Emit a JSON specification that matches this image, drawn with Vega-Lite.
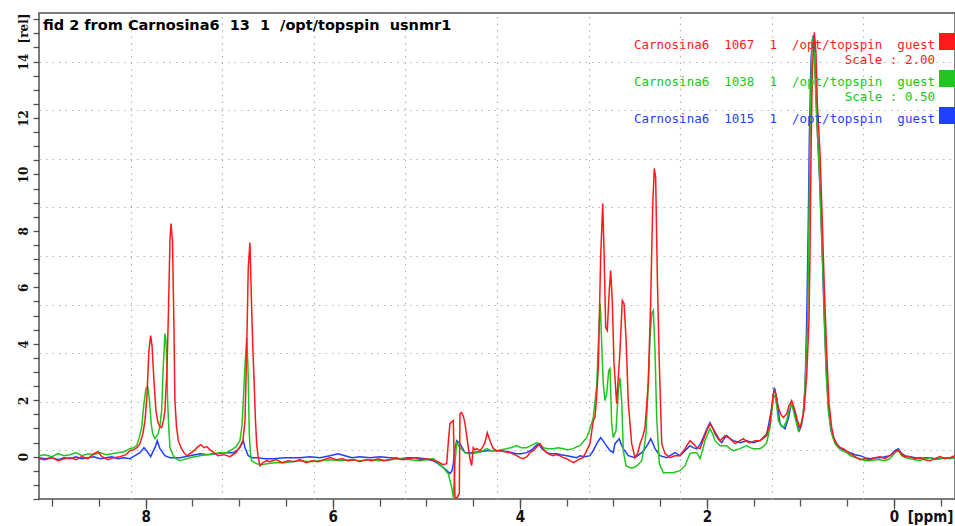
{
  "$schema": "https://vega.github.io/schema/vega-lite/v6.json",
  "width": 916,
  "height": 486,
  "autosize": {"type": "none"},
  "padding": {"left": 39, "top": 13, "right": 0, "bottom": 27},
  "background": "white",
  "config": {
    "view": {"stroke": "#505050", "strokeWidth": 1.5},
    "axis": {"domain": false, "grid": false, "tickColor": "#505050", "tickWidth": 1.3, "labelColor": "#111", "titleColor": "#111"}
  },
  "title": {
    "text": "fid 2 from Carnosina6\u00a0 13\u00a0 1\u00a0 /opt/topspin\u00a0 usnmr1",
    "anchor": "start", "frame": "group", "offset": -31, "baseline": "alphabetic", "dx": 4,
    "font": "DejaVu Sans", "fontSize": 14.5, "fontWeight": "bold", "color": "#000"
  },
  "data": {"values": [
    {"s":"1015","ppm":9.140,"rel":-0.035},{"s":"1015","ppm":9.076,"rel":-0.071},{"s":"1015","ppm":9.002,"rel":-0.035},{"s":"1015","ppm":8.937,"rel":-0.106},{"s":"1015","ppm":8.873,"rel":-0.035},{"s":"1015","ppm":8.809,"rel":-0.071},{"s":"1015","ppm":8.745,"rel":0},{"s":"1015","ppm":8.681,"rel":-0.071},{"s":"1015","ppm":8.617,"rel":-0.035},{"s":"1015","ppm":8.553,"rel":0},{"s":"1015","ppm":8.488,"rel":-0.071},{"s":"1015","ppm":8.424,"rel":-0.035},{"s":"1015","ppm":8.360,"rel":0},{"s":"1015","ppm":8.296,"rel":-0.071},{"s":"1015","ppm":8.232,"rel":-0.035},{"s":"1015","ppm":8.168,"rel":-0.071},{"s":"1015","ppm":8.114,"rel":0.035},{"s":"1015","ppm":8.061,"rel":0.142},{"s":"1015","ppm":8.018,"rel":0.319},{"s":"1015","ppm":7.989,"rel":0.213},{"s":"1015","ppm":7.946,"rel":0},{"s":"1015","ppm":7.922,"rel":0.177},{"s":"1015","ppm":7.900,"rel":0.319},{"s":"1015","ppm":7.876,"rel":0.567},{"s":"1015","ppm":7.847,"rel":0.284},{"s":"1015","ppm":7.794,"rel":0.035},{"s":"1015","ppm":7.740,"rel":-0.035},{"s":"1015","ppm":7.687,"rel":-0.035},{"s":"1015","ppm":7.633,"rel":-0.035},{"s":"1015","ppm":7.526,"rel":0.035},{"s":"1015","ppm":7.419,"rel":0.106},{"s":"1015","ppm":7.334,"rel":0.071},{"s":"1015","ppm":7.241,"rel":0.106},{"s":"1015","ppm":7.152,"rel":0.142},{"s":"1015","ppm":7.063,"rel":0.142},{"s":"1015","ppm":7.024,"rel":0.213},{"s":"1015","ppm":6.992,"rel":0.319},{"s":"1015","ppm":6.956,"rel":0.567},{"s":"1015","ppm":6.938,"rel":0.319},{"s":"1015","ppm":6.903,"rel":0.035},{"s":"1015","ppm":6.863,"rel":-0.035},{"s":"1015","ppm":6.813,"rel":-0.035},{"s":"1015","ppm":6.724,"rel":-0.071},{"s":"1015","ppm":6.636,"rel":-0.071},{"s":"1015","ppm":6.511,"rel":-0.035},{"s":"1015","ppm":6.350,"rel":-0.035},{"s":"1015","ppm":6.243,"rel":0},{"s":"1015","ppm":6.136,"rel":-0.035},{"s":"1015","ppm":6.030,"rel":0.035},{"s":"1015","ppm":5.944,"rel":0.106},{"s":"1015","ppm":5.869,"rel":0.035},{"s":"1015","ppm":5.794,"rel":-0.035},{"s":"1015","ppm":5.709,"rel":0},{"s":"1015","ppm":5.602,"rel":-0.035},{"s":"1015","ppm":5.495,"rel":0},{"s":"1015","ppm":5.388,"rel":-0.035},{"s":"1015","ppm":5.281,"rel":-0.071},{"s":"1015","ppm":5.196,"rel":-0.035},{"s":"1015","ppm":5.103,"rel":-0.035},{"s":"1015","ppm":5.014,"rel":-0.071},{"s":"1015","ppm":4.925,"rel":-0.142},{"s":"1015","ppm":4.875,"rel":-0.248},{"s":"1015","ppm":4.818,"rel":-0.390},{"s":"1015","ppm":4.779,"rel":-0.496},{"s":"1015","ppm":4.747,"rel":-0.603},{"s":"1015","ppm":4.725,"rel":-0.496},{"s":"1015","ppm":4.711,"rel":-0.248},{"s":"1015","ppm":4.693,"rel":0.284},{"s":"1015","ppm":4.675,"rel":0.567},{"s":"1015","ppm":4.640,"rel":0.461},{"s":"1015","ppm":4.586,"rel":0.142},{"s":"1015","ppm":4.533,"rel":0.142},{"s":"1015","ppm":4.426,"rel":0.177},{"s":"1015","ppm":4.354,"rel":0.213},{"s":"1015","ppm":4.284,"rel":0.213},{"s":"1015","ppm":4.212,"rel":0.213},{"s":"1015","ppm":4.127,"rel":0.177},{"s":"1015","ppm":4.034,"rel":0.106},{"s":"1015","ppm":3.988,"rel":0.106},{"s":"1015","ppm":3.927,"rel":0.142},{"s":"1015","ppm":3.870,"rel":0.248},{"s":"1015","ppm":3.838,"rel":0.355},{"s":"1015","ppm":3.803,"rel":0.461},{"s":"1015","ppm":3.763,"rel":0.284},{"s":"1015","ppm":3.713,"rel":0.142},{"s":"1015","ppm":3.667,"rel":0.106},{"s":"1015","ppm":3.606,"rel":0.106},{"s":"1015","ppm":3.560,"rel":0.071},{"s":"1015","ppm":3.499,"rel":0.035},{"s":"1015","ppm":3.442,"rel":0},{"s":"1015","ppm":3.392,"rel":-0.035},{"s":"1015","ppm":3.357,"rel":0.035},{"s":"1015","ppm":3.303,"rel":0},{"s":"1015","ppm":3.250,"rel":0.035},{"s":"1015","ppm":3.215,"rel":0.213},{"s":"1015","ppm":3.178,"rel":0.461},{"s":"1015","ppm":3.136,"rel":0.674},{"s":"1015","ppm":3.111,"rel":0.567},{"s":"1015","ppm":3.090,"rel":0.461},{"s":"1015","ppm":3.036,"rel":0.213},{"s":"1015","ppm":3.001,"rel":0.142},{"s":"1015","ppm":2.983,"rel":0.461},{"s":"1015","ppm":2.937,"rel":0.638},{"s":"1015","ppm":2.919,"rel":0.461},{"s":"1015","ppm":2.894,"rel":0.284},{"s":"1015","ppm":2.840,"rel":0.035},{"s":"1015","ppm":2.769,"rel":-0.035},{"s":"1015","ppm":2.697,"rel":0.142},{"s":"1015","ppm":2.662,"rel":0.284},{"s":"1015","ppm":2.627,"rel":0.461},{"s":"1015","ppm":2.601,"rel":0.638},{"s":"1015","ppm":2.576,"rel":0.461},{"s":"1015","ppm":2.555,"rel":0.284},{"s":"1015","ppm":2.502,"rel":0.035},{"s":"1015","ppm":2.430,"rel":-0.035},{"s":"1015","ppm":2.395,"rel":0.035},{"s":"1015","ppm":2.341,"rel":0.142},{"s":"1015","ppm":2.288,"rel":0.035},{"s":"1015","ppm":2.234,"rel":0.213},{"s":"1015","ppm":2.181,"rel":0.390},{"s":"1015","ppm":2.149,"rel":0.319},{"s":"1015","ppm":2.109,"rel":0.284},{"s":"1015","ppm":2.074,"rel":0.426},{"s":"1015","ppm":2.039,"rel":0.674},{"s":"1015","ppm":1.999,"rel":0.993},{"s":"1015","ppm":1.967,"rel":1.206},{"s":"1015","ppm":1.935,"rel":0.993},{"s":"1015","ppm":1.914,"rel":0.816},{"s":"1015","ppm":1.882,"rel":0.638},{"s":"1015","ppm":1.842,"rel":0.496},{"s":"1015","ppm":1.817,"rel":0.638},{"s":"1015","ppm":1.789,"rel":0.745},{"s":"1015","ppm":1.753,"rel":0.638},{"s":"1015","ppm":1.718,"rel":0.567},{"s":"1015","ppm":1.646,"rel":0.496},{"s":"1015","ppm":1.575,"rel":0.567},{"s":"1015","ppm":1.504,"rel":0.496},{"s":"1015","ppm":1.433,"rel":0.567},{"s":"1015","ppm":1.400,"rel":0.674},{"s":"1015","ppm":1.361,"rel":0.816},{"s":"1015","ppm":1.336,"rel":1.206},{"s":"1015","ppm":1.307,"rel":1.738},{"s":"1015","ppm":1.280,"rel":2.447},{"s":"1015","ppm":1.254,"rel":2.092},{"s":"1015","ppm":1.237,"rel":1.631},{"s":"1015","ppm":1.219,"rel":1.170},{"s":"1015","ppm":1.192,"rel":1.064},{"s":"1015","ppm":1.165,"rel":0.993},{"s":"1015","ppm":1.130,"rel":1.348},{"s":"1015","ppm":1.094,"rel":1.915},{"s":"1015","ppm":1.058,"rel":1.525},{"s":"1015","ppm":1.037,"rel":1.206},{"s":"1015","ppm":1.012,"rel":0.922},{"s":"1015","ppm":0.989,"rel":1.099},{"s":"1015","ppm":0.970,"rel":1.525},{"s":"1015","ppm":0.951,"rel":2.447},{"s":"1015","ppm":0.933,"rel":4.823},{"s":"1015","ppm":0.916,"rel":8.369},{"s":"1015","ppm":0.905,"rel":11.312},{"s":"1015","ppm":0.887,"rel":14.043},{"s":"1015","ppm":0.873,"rel":14.752},{"s":"1015","ppm":0.863,"rel":14.929},{"s":"1015","ppm":0.852,"rel":14.504},{"s":"1015","ppm":0.837,"rel":13.085},{"s":"1015","ppm":0.816,"rel":11.312},{"s":"1015","ppm":0.791,"rel":9.539},{"s":"1015","ppm":0.767,"rel":7.199},{"s":"1015","ppm":0.745,"rel":4.823},{"s":"1015","ppm":0.719,"rel":2.695},{"s":"1015","ppm":0.695,"rel":1.525},{"s":"1015","ppm":0.674,"rel":0.922},{"s":"1015","ppm":0.649,"rel":0.674},{"s":"1015","ppm":0.615,"rel":0.461},{"s":"1015","ppm":0.577,"rel":0.319},{"s":"1015","ppm":0.524,"rel":0.213},{"s":"1015","ppm":0.470,"rel":0.142},{"s":"1015","ppm":0.417,"rel":0.071},{"s":"1015","ppm":0.363,"rel":0.035},{"s":"1015","ppm":0.310,"rel":-0.035},{"s":"1015","ppm":0.257,"rel":-0.071},{"s":"1015","ppm":0.203,"rel":-0.035},{"s":"1015","ppm":0.150,"rel":-0.035},{"s":"1015","ppm":0.096,"rel":0},{"s":"1015","ppm":0.043,"rel":0.035},{"s":"1015","ppm":-0.011,"rel":0.213},{"s":"1015","ppm":-0.046,"rel":0.284},{"s":"1015","ppm":-0.082,"rel":0.106},{"s":"1015","ppm":-0.118,"rel":0.035},{"s":"1015","ppm":-0.171,"rel":0},{"s":"1015","ppm":-0.225,"rel":-0.035},{"s":"1015","ppm":-0.278,"rel":-0.071},{"s":"1015","ppm":-0.331,"rel":-0.035},{"s":"1015","ppm":-0.385,"rel":-0.035},{"s":"1015","ppm":-0.438,"rel":-0.071},{"s":"1015","ppm":-0.492,"rel":-0.071},{"s":"1015","ppm":-0.545,"rel":-0.035},{"s":"1015","ppm":-0.599,"rel":-0.035},{"s":"1015","ppm":-0.652,"rel":-0.035},

    {"s":"1038","ppm":9.140,"rel":0.035},{"s":"1038","ppm":9.076,"rel":0.071},{"s":"1038","ppm":9.002,"rel":0},{"s":"1038","ppm":8.937,"rel":0.106},{"s":"1038","ppm":8.873,"rel":0.035},{"s":"1038","ppm":8.809,"rel":0.071},{"s":"1038","ppm":8.745,"rel":0.142},{"s":"1038","ppm":8.681,"rel":0.035},{"s":"1038","ppm":8.617,"rel":0.106},{"s":"1038","ppm":8.553,"rel":0.071},{"s":"1038","ppm":8.488,"rel":0.142},{"s":"1038","ppm":8.424,"rel":0.071},{"s":"1038","ppm":8.360,"rel":0.106},{"s":"1038","ppm":8.296,"rel":0.142},{"s":"1038","ppm":8.232,"rel":0.177},{"s":"1038","ppm":8.168,"rel":0.284},{"s":"1038","ppm":8.125,"rel":0.319},{"s":"1038","ppm":8.096,"rel":0.390},{"s":"1038","ppm":8.071,"rel":0.638},{"s":"1038","ppm":8.043,"rel":1.028},{"s":"1038","ppm":8.018,"rel":1.879},{"s":"1038","ppm":7.997,"rel":2.411},{"s":"1038","ppm":7.978,"rel":2.482},{"s":"1038","ppm":7.965,"rel":2.163},{"s":"1038","ppm":7.954,"rel":1.738},{"s":"1038","ppm":7.938,"rel":1.099},{"s":"1038","ppm":7.925,"rel":0.816},{"s":"1038","ppm":7.900,"rel":0.638},{"s":"1038","ppm":7.865,"rel":0.816},{"s":"1038","ppm":7.847,"rel":1.099},{"s":"1038","ppm":7.829,"rel":1.631},{"s":"1038","ppm":7.812,"rel":3.156},{"s":"1038","ppm":7.794,"rel":4.362},{"s":"1038","ppm":7.783,"rel":4.113},{"s":"1038","ppm":7.772,"rel":3.050},{"s":"1038","ppm":7.765,"rel":1.986},{"s":"1038","ppm":7.751,"rel":0.922},{"s":"1038","ppm":7.740,"rel":0.319},{"s":"1038","ppm":7.705,"rel":0.035},{"s":"1038","ppm":7.676,"rel":-0.071},{"s":"1038","ppm":7.633,"rel":-0.142},{"s":"1038","ppm":7.601,"rel":-0.106},{"s":"1038","ppm":7.561,"rel":-0.071},{"s":"1038","ppm":7.526,"rel":-0.035},{"s":"1038","ppm":7.473,"rel":0},{"s":"1038","ppm":7.419,"rel":0.035},{"s":"1038","ppm":7.355,"rel":0.071},{"s":"1038","ppm":7.277,"rel":0.106},{"s":"1038","ppm":7.206,"rel":0.142},{"s":"1038","ppm":7.134,"rel":0.142},{"s":"1038","ppm":7.099,"rel":0.213},{"s":"1038","ppm":7.063,"rel":0.284},{"s":"1038","ppm":7.034,"rel":0.355},{"s":"1038","ppm":6.992,"rel":0.567},{"s":"1038","ppm":6.970,"rel":1.099},{"s":"1038","ppm":6.956,"rel":1.986},{"s":"1038","ppm":6.935,"rel":3.404},{"s":"1038","ppm":6.920,"rel":4.220},{"s":"1038","ppm":6.906,"rel":3.156},{"s":"1038","ppm":6.892,"rel":0.816},{"s":"1038","ppm":6.880,"rel":0.142},{"s":"1038","ppm":6.867,"rel":-0.142},{"s":"1038","ppm":6.813,"rel":-0.248},{"s":"1038","ppm":6.757,"rel":-0.284},{"s":"1038","ppm":6.706,"rel":-0.248},{"s":"1038","ppm":6.617,"rel":-0.213},{"s":"1038","ppm":6.529,"rel":-0.213},{"s":"1038","ppm":6.436,"rel":-0.177},{"s":"1038","ppm":6.350,"rel":-0.142},{"s":"1038","ppm":6.243,"rel":-0.177},{"s":"1038","ppm":6.136,"rel":-0.142},{"s":"1038","ppm":6.030,"rel":-0.106},{"s":"1038","ppm":5.923,"rel":-0.142},{"s":"1038","ppm":5.816,"rel":-0.106},{"s":"1038","ppm":5.709,"rel":-0.142},{"s":"1038","ppm":5.602,"rel":-0.106},{"s":"1038","ppm":5.495,"rel":-0.142},{"s":"1038","ppm":5.388,"rel":-0.106},{"s":"1038","ppm":5.281,"rel":-0.071},{"s":"1038","ppm":5.174,"rel":-0.106},{"s":"1038","ppm":5.067,"rel":-0.142},{"s":"1038","ppm":4.993,"rel":-0.106},{"s":"1038","ppm":4.925,"rel":-0.071},{"s":"1038","ppm":4.875,"rel":-0.213},{"s":"1038","ppm":4.818,"rel":-0.390},{"s":"1038","ppm":4.765,"rel":-0.603},{"s":"1038","ppm":4.728,"rel":-1.099},{"s":"1038","ppm":4.711,"rel":-1.454},{"s":"1038","ppm":4.693,"rel":-0.248},{"s":"1038","ppm":4.675,"rel":0.496},{"s":"1038","ppm":4.640,"rel":0.319},{"s":"1038","ppm":4.586,"rel":0.142},{"s":"1038","ppm":4.533,"rel":0.106},{"s":"1038","ppm":4.461,"rel":0.142},{"s":"1038","ppm":4.415,"rel":0.177},{"s":"1038","ppm":4.354,"rel":0.284},{"s":"1038","ppm":4.308,"rel":0.213},{"s":"1038","ppm":4.247,"rel":0.213},{"s":"1038","ppm":4.201,"rel":0.248},{"s":"1038","ppm":4.140,"rel":0.284},{"s":"1038","ppm":4.095,"rel":0.319},{"s":"1038","ppm":4.034,"rel":0.390},{"s":"1038","ppm":3.988,"rel":0.319},{"s":"1038","ppm":3.927,"rel":0.319},{"s":"1038","ppm":3.881,"rel":0.390},{"s":"1038","ppm":3.820,"rel":0.496},{"s":"1038","ppm":3.784,"rel":0.426},{"s":"1038","ppm":3.749,"rel":0.319},{"s":"1038","ppm":3.699,"rel":0.284},{"s":"1038","ppm":3.642,"rel":0.284},{"s":"1038","ppm":3.592,"rel":0.319},{"s":"1038","ppm":3.535,"rel":0.284},{"s":"1038","ppm":3.485,"rel":0.248},{"s":"1038","ppm":3.428,"rel":0.284},{"s":"1038","ppm":3.389,"rel":0.355},{"s":"1038","ppm":3.357,"rel":0.390},{"s":"1038","ppm":3.322,"rel":0.532},{"s":"1038","ppm":3.285,"rel":0.674},{"s":"1038","ppm":3.250,"rel":0.993},{"s":"1038","ppm":3.215,"rel":1.383},{"s":"1038","ppm":3.178,"rel":2.518},{"s":"1038","ppm":3.154,"rel":4.574},{"s":"1038","ppm":3.140,"rel":5.426},{"s":"1038","ppm":3.125,"rel":4.007},{"s":"1038","ppm":3.108,"rel":2.589},{"s":"1038","ppm":3.090,"rel":1.986},{"s":"1038","ppm":3.071,"rel":2.234},{"s":"1038","ppm":3.050,"rel":3.050},{"s":"1038","ppm":3.036,"rel":3.121},{"s":"1038","ppm":3.018,"rel":1.170},{"s":"1038","ppm":3.001,"rel":0.674},{"s":"1038","ppm":2.972,"rel":0.922},{"s":"1038","ppm":2.947,"rel":2.340},{"s":"1038","ppm":2.929,"rel":2.801},{"s":"1038","ppm":2.911,"rel":1.986},{"s":"1038","ppm":2.894,"rel":0.213},{"s":"1038","ppm":2.865,"rel":-0.319},{"s":"1038","ppm":2.822,"rel":-0.390},{"s":"1038","ppm":2.787,"rel":-0.390},{"s":"1038","ppm":2.747,"rel":-0.319},{"s":"1038","ppm":2.697,"rel":-0.142},{"s":"1038","ppm":2.673,"rel":0.284},{"s":"1038","ppm":2.651,"rel":0.816},{"s":"1038","ppm":2.627,"rel":2.589},{"s":"1038","ppm":2.608,"rel":4.220},{"s":"1038","ppm":2.590,"rel":5.071},{"s":"1038","ppm":2.573,"rel":5.177},{"s":"1038","ppm":2.555,"rel":3.759},{"s":"1038","ppm":2.537,"rel":1.383},{"s":"1038","ppm":2.509,"rel":-0.248},{"s":"1038","ppm":2.466,"rel":-0.567},{"s":"1038","ppm":2.416,"rel":-0.567},{"s":"1038","ppm":2.359,"rel":-0.567},{"s":"1038","ppm":2.288,"rel":-0.496},{"s":"1038","ppm":2.234,"rel":-0.319},{"s":"1038","ppm":2.181,"rel":0.106},{"s":"1038","ppm":2.149,"rel":0.142},{"s":"1038","ppm":2.109,"rel":0.142},{"s":"1038","ppm":2.074,"rel":-0.071},{"s":"1038","ppm":2.042,"rel":0.284},{"s":"1038","ppm":2.021,"rel":0.567},{"s":"1038","ppm":1.967,"rel":0.993},{"s":"1038","ppm":1.935,"rel":0.780},{"s":"1038","ppm":1.914,"rel":0.567},{"s":"1038","ppm":1.860,"rel":0.390},{"s":"1038","ppm":1.789,"rel":0.390},{"s":"1038","ppm":1.753,"rel":0.284},{"s":"1038","ppm":1.718,"rel":0.213},{"s":"1038","ppm":1.646,"rel":0.284},{"s":"1038","ppm":1.575,"rel":0.390},{"s":"1038","ppm":1.539,"rel":0.319},{"s":"1038","ppm":1.504,"rel":0.284},{"s":"1038","ppm":1.433,"rel":0.284},{"s":"1038","ppm":1.400,"rel":0.355},{"s":"1038","ppm":1.361,"rel":0.496},{"s":"1038","ppm":1.326,"rel":1.028},{"s":"1038","ppm":1.290,"rel":2.092},{"s":"1038","ppm":1.272,"rel":2.163},{"s":"1038","ppm":1.254,"rel":1.809},{"s":"1038","ppm":1.237,"rel":1.277},{"s":"1038","ppm":1.208,"rel":1.099},{"s":"1038","ppm":1.183,"rel":1.028},{"s":"1038","ppm":1.147,"rel":1.277},{"s":"1038","ppm":1.123,"rel":1.631},{"s":"1038","ppm":1.094,"rel":1.879},{"s":"1038","ppm":1.058,"rel":1.383},{"s":"1038","ppm":1.023,"rel":0.922},{"s":"1038","ppm":0.994,"rel":1.099},{"s":"1038","ppm":0.970,"rel":1.525},{"s":"1038","ppm":0.951,"rel":2.447},{"s":"1038","ppm":0.923,"rel":4.823},{"s":"1038","ppm":0.909,"rel":8.369},{"s":"1038","ppm":0.898,"rel":11.312},{"s":"1038","ppm":0.880,"rel":14.291},{"s":"1038","ppm":0.869,"rel":14.858},{"s":"1038","ppm":0.852,"rel":14.291},{"s":"1038","ppm":0.826,"rel":11.915},{"s":"1038","ppm":0.799,"rel":10.142},{"s":"1038","ppm":0.773,"rel":7.766},{"s":"1038","ppm":0.748,"rel":5.426},{"s":"1038","ppm":0.727,"rel":3.050},{"s":"1038","ppm":0.702,"rel":1.631},{"s":"1038","ppm":0.666,"rel":0.816},{"s":"1038","ppm":0.631,"rel":0.461},{"s":"1038","ppm":0.595,"rel":0.319},{"s":"1038","ppm":0.556,"rel":0.213},{"s":"1038","ppm":0.506,"rel":0.142},{"s":"1038","ppm":0.470,"rel":0.035},{"s":"1038","ppm":0.417,"rel":-0.035},{"s":"1038","ppm":0.363,"rel":-0.071},{"s":"1038","ppm":0.310,"rel":-0.142},{"s":"1038","ppm":0.257,"rel":-0.142},{"s":"1038","ppm":0.203,"rel":-0.106},{"s":"1038","ppm":0.150,"rel":-0.106},{"s":"1038","ppm":0.096,"rel":-0.142},{"s":"1038","ppm":0.043,"rel":-0.071},{"s":"1038","ppm":-0.011,"rel":0.142},{"s":"1038","ppm":-0.046,"rel":0.213},{"s":"1038","ppm":-0.082,"rel":0.035},{"s":"1038","ppm":-0.118,"rel":-0.035},{"s":"1038","ppm":-0.171,"rel":-0.071},{"s":"1038","ppm":-0.225,"rel":-0.106},{"s":"1038","ppm":-0.278,"rel":-0.142},{"s":"1038","ppm":-0.331,"rel":-0.071},{"s":"1038","ppm":-0.385,"rel":-0.035},{"s":"1038","ppm":-0.438,"rel":-0.106},{"s":"1038","ppm":-0.492,"rel":-0.071},{"s":"1038","ppm":-0.545,"rel":-0.035},{"s":"1038","ppm":-0.599,"rel":-0.071},{"s":"1038","ppm":-0.652,"rel":-0.035},

    {"s":"1067","ppm":9.140,"rel":-0.071},{"s":"1067","ppm":9.076,"rel":-0.106},{"s":"1067","ppm":9.002,"rel":-0.035},{"s":"1067","ppm":8.937,"rel":-0.142},{"s":"1067","ppm":8.873,"rel":-0.071},{"s":"1067","ppm":8.809,"rel":-0.035},{"s":"1067","ppm":8.745,"rel":-0.106},{"s":"1067","ppm":8.681,"rel":0},{"s":"1067","ppm":8.617,"rel":-0.071},{"s":"1067","ppm":8.553,"rel":0.106},{"s":"1067","ppm":8.510,"rel":0.177},{"s":"1067","ppm":8.467,"rel":0},{"s":"1067","ppm":8.403,"rel":-0.106},{"s":"1067","ppm":8.339,"rel":-0.035},{"s":"1067","ppm":8.275,"rel":0},{"s":"1067","ppm":8.210,"rel":0.071},{"s":"1067","ppm":8.168,"rel":0.213},{"s":"1067","ppm":8.125,"rel":0.248},{"s":"1067","ppm":8.093,"rel":0.319},{"s":"1067","ppm":8.061,"rel":0.461},{"s":"1067","ppm":8.029,"rel":0.816},{"s":"1067","ppm":8.007,"rel":1.277},{"s":"1067","ppm":7.986,"rel":2.163},{"s":"1067","ppm":7.965,"rel":3.759},{"s":"1067","ppm":7.946,"rel":4.291},{"s":"1067","ppm":7.932,"rel":3.936},{"s":"1067","ppm":7.911,"rel":2.695},{"s":"1067","ppm":7.890,"rel":1.631},{"s":"1067","ppm":7.868,"rel":1.206},{"s":"1067","ppm":7.847,"rel":1.064},{"s":"1067","ppm":7.829,"rel":1.028},{"s":"1067","ppm":7.809,"rel":1.277},{"s":"1067","ppm":7.794,"rel":1.631},{"s":"1067","ppm":7.772,"rel":3.050},{"s":"1067","ppm":7.756,"rel":5.177},{"s":"1067","ppm":7.740,"rel":7.660},{"s":"1067","ppm":7.729,"rel":8.262},{"s":"1067","ppm":7.713,"rel":7.660},{"s":"1067","ppm":7.697,"rel":4.468},{"s":"1067","ppm":7.687,"rel":1.986},{"s":"1067","ppm":7.671,"rel":1.099},{"s":"1067","ppm":7.651,"rel":0.567},{"s":"1067","ppm":7.622,"rel":0.319},{"s":"1067","ppm":7.590,"rel":0.142},{"s":"1067","ppm":7.561,"rel":0.035},{"s":"1067","ppm":7.526,"rel":0.106},{"s":"1067","ppm":7.483,"rel":0.213},{"s":"1067","ppm":7.441,"rel":0.355},{"s":"1067","ppm":7.409,"rel":0.426},{"s":"1067","ppm":7.377,"rel":0.319},{"s":"1067","ppm":7.345,"rel":0.355},{"s":"1067","ppm":7.312,"rel":0.248},{"s":"1067","ppm":7.270,"rel":0.142},{"s":"1067","ppm":7.227,"rel":0.035},{"s":"1067","ppm":7.163,"rel":0.071},{"s":"1067","ppm":7.099,"rel":0},{"s":"1067","ppm":7.034,"rel":0.142},{"s":"1067","ppm":6.992,"rel":0.355},{"s":"1067","ppm":6.960,"rel":0.567},{"s":"1067","ppm":6.938,"rel":1.277},{"s":"1067","ppm":6.920,"rel":3.759},{"s":"1067","ppm":6.903,"rel":6.702},{"s":"1067","ppm":6.885,"rel":7.589},{"s":"1067","ppm":6.867,"rel":5.284},{"s":"1067","ppm":6.853,"rel":3.759},{"s":"1067","ppm":6.842,"rel":2.801},{"s":"1067","ppm":6.826,"rel":1.277},{"s":"1067","ppm":6.813,"rel":0.461},{"s":"1067","ppm":6.799,"rel":0.035},{"s":"1067","ppm":6.778,"rel":-0.319},{"s":"1067","ppm":6.746,"rel":-0.213},{"s":"1067","ppm":6.703,"rel":-0.142},{"s":"1067","ppm":6.671,"rel":-0.177},{"s":"1067","ppm":6.607,"rel":-0.106},{"s":"1067","ppm":6.543,"rel":-0.213},{"s":"1067","ppm":6.478,"rel":-0.142},{"s":"1067","ppm":6.414,"rel":-0.177},{"s":"1067","ppm":6.350,"rel":-0.106},{"s":"1067","ppm":6.286,"rel":-0.213},{"s":"1067","ppm":6.222,"rel":-0.142},{"s":"1067","ppm":6.158,"rel":-0.177},{"s":"1067","ppm":6.094,"rel":-0.106},{"s":"1067","ppm":6.030,"rel":-0.035},{"s":"1067","ppm":5.965,"rel":-0.106},{"s":"1067","ppm":5.901,"rel":-0.071},{"s":"1067","ppm":5.837,"rel":-0.142},{"s":"1067","ppm":5.773,"rel":-0.106},{"s":"1067","ppm":5.709,"rel":-0.177},{"s":"1067","ppm":5.645,"rel":-0.106},{"s":"1067","ppm":5.581,"rel":-0.142},{"s":"1067","ppm":5.516,"rel":-0.071},{"s":"1067","ppm":5.452,"rel":-0.142},{"s":"1067","ppm":5.388,"rel":-0.106},{"s":"1067","ppm":5.324,"rel":-0.035},{"s":"1067","ppm":5.260,"rel":-0.106},{"s":"1067","ppm":5.196,"rel":-0.071},{"s":"1067","ppm":5.132,"rel":-0.035},{"s":"1067","ppm":5.067,"rel":-0.106},{"s":"1067","ppm":5.003,"rel":-0.071},{"s":"1067","ppm":4.939,"rel":-0.106},{"s":"1067","ppm":4.875,"rel":-0.177},{"s":"1067","ppm":4.821,"rel":-0.284},{"s":"1067","ppm":4.782,"rel":-0.248},{"s":"1067","ppm":4.763,"rel":0.567},{"s":"1067","ppm":4.747,"rel":1.170},{"s":"1067","ppm":4.725,"rel":1.241},{"s":"1067","ppm":4.711,"rel":1.277},{"s":"1067","ppm":4.702,"rel":-0.142},{"s":"1067","ppm":4.693,"rel":-1.454},{"s":"1067","ppm":4.672,"rel":-1.454},{"s":"1067","ppm":4.647,"rel":-1.312},{"s":"1067","ppm":4.640,"rel":1.525},{"s":"1067","ppm":4.622,"rel":1.560},{"s":"1067","ppm":4.602,"rel":1.418},{"s":"1067","ppm":4.586,"rel":1.170},{"s":"1067","ppm":4.565,"rel":0.674},{"s":"1067","ppm":4.551,"rel":0.319},{"s":"1067","ppm":4.533,"rel":-0.071},{"s":"1067","ppm":4.515,"rel":-0.319},{"s":"1067","ppm":4.498,"rel":0.319},{"s":"1067","ppm":4.479,"rel":0.248},{"s":"1067","ppm":4.461,"rel":0.284},{"s":"1067","ppm":4.426,"rel":0.213},{"s":"1067","ppm":4.394,"rel":0.355},{"s":"1067","ppm":4.373,"rel":0.496},{"s":"1067","ppm":4.348,"rel":0.851},{"s":"1067","ppm":4.319,"rel":0.567},{"s":"1067","ppm":4.284,"rel":0.284},{"s":"1067","ppm":4.247,"rel":0.213},{"s":"1067","ppm":4.212,"rel":0.213},{"s":"1067","ppm":4.159,"rel":0.177},{"s":"1067","ppm":4.105,"rel":0.142},{"s":"1067","ppm":4.034,"rel":0.035},{"s":"1067","ppm":3.998,"rel":-0.035},{"s":"1067","ppm":3.963,"rel":-0.071},{"s":"1067","ppm":3.923,"rel":0},{"s":"1067","ppm":3.891,"rel":0.142},{"s":"1067","ppm":3.856,"rel":0.213},{"s":"1067","ppm":3.817,"rel":0.355},{"s":"1067","ppm":3.784,"rel":0.461},{"s":"1067","ppm":3.752,"rel":0.284},{"s":"1067","ppm":3.713,"rel":0.142},{"s":"1067","ppm":3.678,"rel":0.071},{"s":"1067","ppm":3.642,"rel":0.035},{"s":"1067","ppm":3.613,"rel":0.071},{"s":"1067","ppm":3.571,"rel":0.035},{"s":"1067","ppm":3.539,"rel":-0.035},{"s":"1067","ppm":3.499,"rel":-0.071},{"s":"1067","ppm":3.464,"rel":-0.142},{"s":"1067","ppm":3.428,"rel":-0.213},{"s":"1067","ppm":3.389,"rel":-0.142},{"s":"1067","ppm":3.357,"rel":-0.071},{"s":"1067","ppm":3.322,"rel":-0.035},{"s":"1067","ppm":3.285,"rel":0.213},{"s":"1067","ppm":3.250,"rel":0.461},{"s":"1067","ppm":3.215,"rel":1.277},{"s":"1067","ppm":3.197,"rel":1.383},{"s":"1067","ppm":3.178,"rel":2.163},{"s":"1067","ppm":3.161,"rel":3.156},{"s":"1067","ppm":3.136,"rel":7.057},{"s":"1067","ppm":3.114,"rel":8.972},{"s":"1067","ppm":3.100,"rel":7.305},{"s":"1067","ppm":3.082,"rel":4.574},{"s":"1067","ppm":3.065,"rel":4.468},{"s":"1067","ppm":3.044,"rel":5.887},{"s":"1067","ppm":3.029,"rel":6.596},{"s":"1067","ppm":3.012,"rel":5.532},{"s":"1067","ppm":2.993,"rel":3.298},{"s":"1067","ppm":2.965,"rel":1.879},{"s":"1067","ppm":2.929,"rel":3.759},{"s":"1067","ppm":2.905,"rel":5.532},{"s":"1067","ppm":2.886,"rel":5.426},{"s":"1067","ppm":2.865,"rel":4.220},{"s":"1067","ppm":2.840,"rel":1.879},{"s":"1067","ppm":2.804,"rel":0.461},{"s":"1067","ppm":2.769,"rel":-0.035},{"s":"1067","ppm":2.737,"rel":0.142},{"s":"1067","ppm":2.715,"rel":0.461},{"s":"1067","ppm":2.683,"rel":0.745},{"s":"1067","ppm":2.662,"rel":1.028},{"s":"1067","ppm":2.627,"rel":2.589},{"s":"1067","ppm":2.601,"rel":5.532},{"s":"1067","ppm":2.580,"rel":8.830},{"s":"1067","ppm":2.563,"rel":10.213},{"s":"1067","ppm":2.548,"rel":9.894},{"s":"1067","ppm":2.530,"rel":6.348},{"s":"1067","ppm":2.509,"rel":3.298},{"s":"1067","ppm":2.483,"rel":0.461},{"s":"1067","ppm":2.448,"rel":0.106},{"s":"1067","ppm":2.395,"rel":-0.035},{"s":"1067","ppm":2.341,"rel":0.035},{"s":"1067","ppm":2.288,"rel":0.035},{"s":"1067","ppm":2.234,"rel":0.284},{"s":"1067","ppm":2.181,"rel":0.567},{"s":"1067","ppm":2.146,"rel":0.461},{"s":"1067","ppm":2.106,"rel":0.319},{"s":"1067","ppm":2.074,"rel":0.284},{"s":"1067","ppm":2.042,"rel":0.567},{"s":"1067","ppm":2.002,"rel":0.922},{"s":"1067","ppm":1.967,"rel":1.170},{"s":"1067","ppm":1.935,"rel":0.993},{"s":"1067","ppm":1.903,"rel":0.816},{"s":"1067","ppm":1.860,"rel":0.567},{"s":"1067","ppm":1.807,"rel":0.745},{"s":"1067","ppm":1.753,"rel":0.638},{"s":"1067","ppm":1.700,"rel":0.461},{"s":"1067","ppm":1.646,"rel":0.567},{"s":"1067","ppm":1.611,"rel":0.638},{"s":"1067","ppm":1.572,"rel":0.532},{"s":"1067","ppm":1.539,"rel":0.496},{"s":"1067","ppm":1.486,"rel":0.567},{"s":"1067","ppm":1.433,"rel":0.567},{"s":"1067","ppm":1.390,"rel":0.674},{"s":"1067","ppm":1.361,"rel":0.745},{"s":"1067","ppm":1.326,"rel":1.170},{"s":"1067","ppm":1.290,"rel":2.234},{"s":"1067","ppm":1.272,"rel":2.340},{"s":"1067","ppm":1.254,"rel":2.057},{"s":"1067","ppm":1.237,"rel":1.738},{"s":"1067","ppm":1.208,"rel":1.489},{"s":"1067","ppm":1.183,"rel":1.383},{"s":"1067","ppm":1.147,"rel":1.525},{"s":"1067","ppm":1.123,"rel":1.809},{"s":"1067","ppm":1.094,"rel":1.986},{"s":"1067","ppm":1.058,"rel":1.631},{"s":"1067","ppm":1.032,"rel":1.277},{"s":"1067","ppm":1.005,"rel":1.028},{"s":"1067","ppm":0.984,"rel":1.277},{"s":"1067","ppm":0.962,"rel":1.631},{"s":"1067","ppm":0.933,"rel":2.872},{"s":"1067","ppm":0.909,"rel":4.823},{"s":"1067","ppm":0.898,"rel":7.199},{"s":"1067","ppm":0.887,"rel":10.745},{"s":"1067","ppm":0.873,"rel":13.688},{"s":"1067","ppm":0.852,"rel":15.035},{"s":"1067","ppm":0.834,"rel":14.291},{"s":"1067","ppm":0.820,"rel":12.518},{"s":"1067","ppm":0.791,"rel":10.745},{"s":"1067","ppm":0.767,"rel":8.369},{"s":"1067","ppm":0.745,"rel":5.993},{"s":"1067","ppm":0.719,"rel":3.652},{"s":"1067","ppm":0.695,"rel":1.879},{"s":"1067","ppm":0.666,"rel":1.028},{"s":"1067","ppm":0.641,"rel":0.638},{"s":"1067","ppm":0.613,"rel":0.461},{"s":"1067","ppm":0.577,"rel":0.319},{"s":"1067","ppm":0.542,"rel":0.284},{"s":"1067","ppm":0.513,"rel":0.213},{"s":"1067","ppm":0.470,"rel":0.106},{"s":"1067","ppm":0.417,"rel":0},{"s":"1067","ppm":0.363,"rel":-0.106},{"s":"1067","ppm":0.310,"rel":-0.071},{"s":"1067","ppm":0.257,"rel":-0.106},{"s":"1067","ppm":0.203,"rel":-0.035},{"s":"1067","ppm":0.150,"rel":0},{"s":"1067","ppm":0.096,"rel":-0.071},{"s":"1067","ppm":0.043,"rel":0.035},{"s":"1067","ppm":-0.011,"rel":0.177},{"s":"1067","ppm":-0.046,"rel":0.248},{"s":"1067","ppm":-0.082,"rel":0.071},{"s":"1067","ppm":-0.118,"rel":0},{"s":"1067","ppm":-0.171,"rel":0},{"s":"1067","ppm":-0.225,"rel":-0.071},{"s":"1067","ppm":-0.278,"rel":-0.035},{"s":"1067","ppm":-0.331,"rel":-0.106},{"s":"1067","ppm":-0.385,"rel":-0.142},{"s":"1067","ppm":-0.438,"rel":-0.071},{"s":"1067","ppm":-0.492,"rel":0},{"s":"1067","ppm":-0.545,"rel":-0.071},{"s":"1067","ppm":-0.599,"rel":-0.035},{"s":"1067","ppm":-0.652,"rel":0.035}
  ]},
  "layer": [
    {
      "mark": {"type": "point", "opacity": 0},
      "encoding": {
        "x": {"field": "ppm", "type": "quantitative",
          "scale": {"domain": [-0.652, 9.14], "reverse": true, "nice": false, "zero": false},
          "axis": {"orient": "top", "values": [8.161, 7.182, 6.202, 5.223, 4.244, 3.265, 2.286, 1.306, 0.327],
            "grid": true, "ticks": false, "labels": false, "domain": false, "title": null,
            "gridColor": "#b4b4b4", "gridDash": [1.5, 5], "gridWidth": 1.2}},
        "y": {"field": "rel", "type": "quantitative",
          "scale": {"domain": [-1.5, 15.72], "nice": false, "zero": false},
          "axis": {"orient": "right", "values": [0.222, 1.944, 3.666, 5.388, 7.11, 8.832, 10.554, 12.276, 13.998],
            "grid": true, "ticks": false, "labels": false, "domain": false, "title": null,
            "gridColor": "#b4b4b4", "gridDash": [1.5, 5], "gridWidth": 1.2}}
      }
    },
    {
      "mark": {"type": "line", "strokeWidth": 1.5, "clip": true},
      "encoding": {
        "x": {"field": "ppm", "type": "quantitative",
          "scale": {"domain": [-0.652, 9.14], "reverse": true, "nice": false, "zero": false},
          "axis": {"orient": "bottom", "values": [9, 8.5, 8, 7.5, 7, 6.5, 6, 5.5, 5, 4.5, 4, 3.5, 3, 2.5, 2, 1.5, 1, 0.5, 0, -0.5],
            "ticks": true, "tickSize": 7, "labels": false, "grid": false, "title": null}},
        "y": {"field": "rel", "type": "quantitative",
          "scale": {"domain": [-1.5, 15.72], "nice": false, "zero": false},
          "axis": {"orient": "left", "values": [-1.5, -1, -0.5, 0, 0.5, 1, 1.5, 2, 2.5, 3, 3.5, 4, 4.5, 5, 5.5, 6, 6.5, 7, 7.5, 8, 8.5, 9, 9.5, 10, 10.5, 11, 11.5, 12, 12.5, 13, 13.5, 14, 14.5, 15, 15.5],
            "tickSize": 6, "grid": false,
            "labelExpr": "datum.value % 2 == 0 ? format(datum.value, 'd') : ''",
            "labelAngle": -90, "labelAlign": "center", "labelBaseline": "alphabetic", "labelPadding": 6,
            "labelFont": "DejaVu Serif", "labelFontWeight": "bold", "labelFontSize": 12,
            "labelOverlap": false, "labelFlush": false,
            "title": "[rel]", "titleAngle": -90, "titleX": -12, "titleY": 15, "titleAlign": "center", "titleBaseline": "alphabetic",
            "titleFont": "DejaVu Serif", "titleFontSize": 12, "titleFontWeight": "bold"}},
        "color": {"field": "s", "type": "nominal",
          "scale": {"domain": ["1067", "1038", "1015"], "range": ["#ff1a1a", "#20c520", "#1f40ff"]},
          "legend": {
            "orient": "none", "legendX": 900, "legendY": 20, "direction": "vertical",
            "title": null, "padding": 0, "rowPadding": 3,
            "symbolType": "square", "symbolSize": 289, "symbolStrokeWidth": 0,
            "labelAlign": "right", "labelOffset": -21, "labelLimit": 600,
            "labelFont": "DejaVu Sans Mono", "labelFontSize": 12.5, "labelBaseline": "alphabetic",
            "labelExpr": "datum.value == '1067' ? ['Carnosina6\u00a0 1067\u00a0 1\u00a0 /opt/topspin\u00a0 guest', 'Scale : 2.00\u00a0'] : datum.value == '1038' ? ['Carnosina6\u00a0 1038\u00a0 1\u00a0 /opt/topspin\u00a0 guest', 'Scale : 0.50\u00a0'] : 'Carnosina6\u00a0 1015\u00a0 1\u00a0 /opt/topspin\u00a0 guest'",
            "encode": {
              "labels": {"update": {"fill": {"scale": "color", "field": "value"}, "dy": {"value": 7.5}, "lineHeight": {"value": 15}}},
              "symbols": {"update": {"fill": {"scale": "color", "field": "value"}, "stroke": {"value": "transparent"}, "opacity": {"value": 1}}}
            }
          }}
      }
    },
    {
      "mark": {"type": "point", "opacity": 0},
      "encoding": {
        "x": {"field": "ppm", "type": "quantitative",
          "scale": {"domain": [-0.652, 9.14], "reverse": true, "nice": false, "zero": false},
          "axis": {"orient": "bottom", "values": [8, 6, 4, 2, 0], "format": "d",
            "ticks": true, "tickSize": 10, "labels": true, "grid": false,
            "labelFont": "DejaVu Sans Condensed, DejaVu Sans", "labelFontSize": 15, "labelFontWeight": "bold",
            "labelBaseline": "alphabetic", "labelPadding": 12.5, "labelFlush": false, "labelOverlap": false,
            "title": "[ppm]", "titleX": 891, "titleY": 22.5, "titleAlign": "center", "titleBaseline": "alphabetic",
            "titleFont": "DejaVu Sans Condensed, DejaVu Sans", "titleFontSize": 15, "titleFontWeight": "bold"}},
        "y": {"field": "rel", "type": "quantitative",
          "scale": {"domain": [-1.5, 15.72], "nice": false, "zero": false},
          "axis": null}
      }
    }
  ],
  "resolve": {"axis": {"x": "independent", "y": "independent"}}
}
